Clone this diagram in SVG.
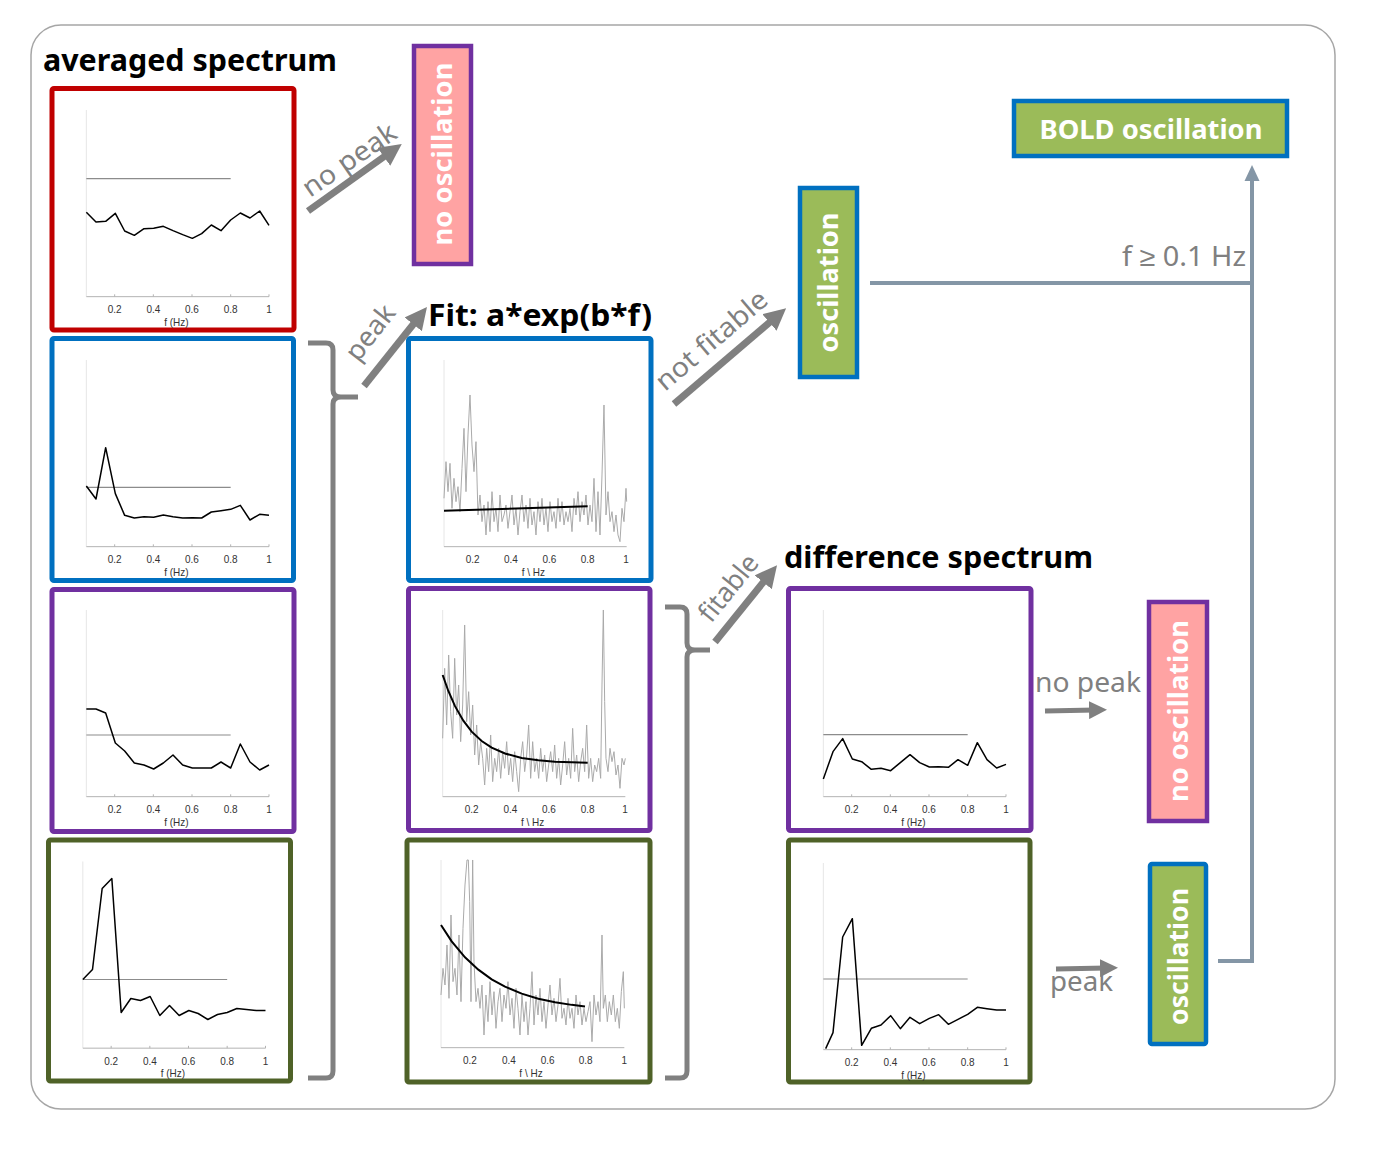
<svg xmlns="http://www.w3.org/2000/svg" width="1394" height="1157" viewBox="0 0 1394 1157">
<style>
.frame{fill:#fff;stroke:#a6a6a6;stroke-width:1.5}
.pan{fill:#fff;stroke-width:5}
.red{stroke:#C00000}.blue{stroke:#0070C0}.purple{stroke:#7030A0}.olive{stroke:#4F6228}
.yax{stroke:#e6e6e6;stroke-width:3}
.xax{stroke:#b3b3b3;stroke-width:3}
.thr{stroke:#8c8c8c;stroke-width:3.5;fill:none}
.dat{stroke:#000;stroke-width:4.5;fill:none;stroke-linejoin:round}
.noise{stroke:#aaaaaa;stroke-width:3;fill:none;stroke-linejoin:round}
.fit{stroke:#000;stroke-width:6;fill:none}
.tk{font-family:"Liberation Sans",Arial,sans-serif;font-size:30px;fill:#333;text-anchor:middle}
.title{font-family:"Noto Sans","Liberation Sans",sans-serif;font-weight:bold;font-size:30px;fill:#000}
.wl{font-family:"Noto Sans","Liberation Sans",sans-serif;font-weight:bold;font-size:27px;fill:#fff;text-anchor:middle}
.gl{font-family:"Noto Sans","Liberation Sans",sans-serif;font-size:27px;fill:#808080}
.pink{fill:#FFA3A3;stroke:#7030A0;stroke-width:4.5}
.green{fill:#9BBB59;stroke:#0070C0;stroke-width:4.5}
.garrow{stroke:#808080;stroke-width:7;fill:none}
.garrow2{stroke:#808080;stroke-width:5;fill:none}
.brace{stroke:#808080;stroke-width:5;fill:none;stroke-linejoin:round}
.conn{stroke:#8496A6;stroke-width:4;fill:none}
</style>
<defs>
<marker id="ah" markerUnits="userSpaceOnUse" markerWidth="22" markerHeight="22" viewBox="0 0 22 22" refX="10" refY="11" orient="auto"><path d="M0,0 L22,11 L0,22 z" fill="#808080"/></marker>
<marker id="ah2" markerUnits="userSpaceOnUse" markerWidth="18" markerHeight="18" viewBox="0 0 18 18" refX="6" refY="9" orient="auto"><path d="M0,0 L18,9 L0,18 z" fill="#808080"/></marker>
<g id="axes">
<line class="yax" x1="115" y1="75" x2="115" y2="635"/>
<line class="xax" x1="115" y1="635" x2="663" y2="635"/>
<path class="xax" d="M200,635v-7M316,635v-7M432,635v-7M548,635v-7M663,635v-7"/>
<text class="tk" x="200" y="685">0.2</text><text class="tk" x="316" y="685">0.4</text><text class="tk" x="432" y="685">0.6</text><text class="tk" x="548" y="685">0.8</text><text class="tk" x="663" y="685">1</text>
</g>
</defs>
<rect class="frame" x="31" y="25" width="1304" height="1084" rx="30"/>

<text class="title" x="43" y="71" textLength="294" lengthAdjust="spacingAndGlyphs">averaged spectrum</text>
<text class="title" x="428" y="326" textLength="224" lengthAdjust="spacingAndGlyphs">Fit: a*exp(b*f)</text>
<text class="title" x="784" y="568" textLength="309" lengthAdjust="spacingAndGlyphs">difference spectrum</text>

<g id="p1">
<rect class="pan red" x="52" y="88.5" width="242" height="241.5" rx="2"/>
<g transform="translate(48,85) scale(0.33333)">
<use href="#axes"/><text class="tk" x="385" y="722">f (Hz)</text>
<line class="thr" x1="115" y1="281" x2="548" y2="281"/>
<polyline class="dat" points="115,382 144,411 173,409 202,385 230,438 259,451 288,431 317,430 346,424 375,437 404,449 433,460 461,446 490,420 519,437 548,405 577,384 606,399 635,378 663,421"/>
</g></g>

<g id="p2">
<rect class="pan blue" x="52" y="338.5" width="241.5" height="242" rx="2"/>
<g transform="translate(48,335) scale(0.33333)">
<use href="#axes"/><text class="tk" x="385" y="722">f (Hz)</text>
<line class="thr" x1="115" y1="457" x2="548" y2="457"/>
<polyline class="dat" points="115,453 144,492 173,338 202,476 230,541 259,549 288,545 317,547 346,540 375,545 404,549 433,548 461,549 490,531 519,527 548,523 577,511 606,555 635,538 663,541"/>
</g></g>

<g id="p3">
<rect class="pan purple" x="52" y="589.5" width="242" height="242" rx="2"/>
<g transform="translate(48,585) scale(0.33333)">
<use href="#axes"/><text class="tk" x="385" y="722">f (Hz)</text>
<line class="thr" x1="115" y1="450" x2="548" y2="450"/>
<polyline class="dat" points="115,372 144,372 173,384 202,474 230,498 259,534 288,540 317,552 346,534 375,510 404,540 433,549 461,549 490,549 519,531 548,549 577,477 606,531 635,555 663,540"/>
</g></g>

<g id="p4">
<rect class="pan olive" x="48.5" y="840" width="242" height="241" rx="2"/>
<g transform="translate(44.5,836.5) scale(0.33333)">
<use href="#axes"/><text class="tk" x="385" y="722">f (Hz)</text>
<line class="thr" x1="115" y1="429" x2="548" y2="429"/>
<polyline class="dat" points="115,429 144,399 173,156 202,126 230,528 259,486 288,492 317,480 346,537 375,507 404,537 433,522 461,531 490,549 519,534 548,528 577,516 606,519 635,522 663,522"/>
</g></g>

<g id="p5">
<rect class="pan blue" x="408.5" y="338.5" width="242.5" height="242" rx="2"/>
<g transform="translate(405,335) scale(0.33333)">
<line class="yax" x1="117" y1="75" x2="117" y2="635"/>
<line class="xax" x1="117" y1="635" x2="665" y2="635"/>
<text class="tk" x="203" y="685">0.2</text><text class="tk" x="318" y="685">0.4</text><text class="tk" x="433" y="685">0.6</text><text class="tk" x="548" y="685">0.8</text><text class="tk" x="663" y="685">1</text>
<text class="tk" x="385" y="722">f \ Hz</text>
<polyline class="noise" points="117,490 123,380 129,470 135,385 141,520 147,430 153,500 159,455 165,530 171,400 177,280 183,470 189,300 195,180 201,330 207,410 213,320 219,540 225,480 231,560 237,510 243,600 249,500 255,590 261,470 267,560 273,520 279,590 285,480 291,560 297,540 303,510 309,580 315,530 321,480 327,570 333,520 339,600 345,530 351,480 357,560 363,510 369,580 375,490 381,570 387,530 393,600 399,500 405,560 411,490 417,570 423,520 429,590 435,500 441,560 447,530 453,580 459,490 465,560 471,500 477,570 483,530 489,560 495,520 501,590 507,490 513,540 519,470 525,560 531,500 537,540 543,480 549,570 555,510 561,560 567,430 573,590 579,470 585,600 591,420 597,210 603,540 609,470 615,560 621,530 627,590 633,540 639,600 645,620 651,520 657,560 663,460 665,500"/>
<line class="fit" x1="117" y1="527" x2="548" y2="514"/>
</g></g>

<g id="p6">
<rect class="pan purple" x="408.5" y="588.5" width="241.5" height="242" rx="2"/>
<g transform="translate(405,585) scale(0.33333)">
<line class="yax" x1="113" y1="75" x2="113" y2="635"/>
<line class="xax" x1="113" y1="635" x2="661" y2="635"/>
<text class="tk" x="200" y="685">0.2</text><text class="tk" x="316" y="685">0.4</text><text class="tk" x="432" y="685">0.6</text><text class="tk" x="548" y="685">0.8</text><text class="tk" x="660" y="685">1</text>
<text class="tk" x="383" y="722">f \ Hz</text>
<polyline class="noise" points="113,460 119,250 125,420 131,210 137,380 143,460 149,220 155,390 161,300 167,470 173,360 179,120 185,410 191,320 197,450 203,360 209,510 215,420 221,540 227,470 233,520 239,600 245,490 251,560 257,450 263,590 269,520 275,560 281,490 287,580 293,500 299,550 305,470 311,570 317,520 323,590 329,500 335,560 341,620 347,520 353,470 359,560 365,510 371,420 377,580 383,470 389,560 395,520 401,580 407,490 413,560 419,510 425,590 431,540 437,500 443,560 449,480 455,580 461,520 467,600 473,540 479,470 485,570 491,520 497,580 503,430 509,560 515,510 521,590 527,530 533,490 539,560 545,420 551,580 557,520 563,590 569,540 575,560 581,520 587,580 591,300 595,75 599,350 603,520 609,560 615,490 621,530 627,500 633,570 639,540 645,610 651,520 657,540 661,520"/>
<path class="fit" d="M113,270 L130,318 L150,363.5 L175,407 L200,440 L230,468 L260,488 L300,505.6 L350,518.7 L400,526 L450,530 L500,532 L548,533.4"/>
</g></g>

<g id="p7">
<rect class="pan olive" x="407" y="840" width="243" height="242" rx="2"/>
<g transform="translate(405,835) scale(0.33333)">
<line class="yax" x1="108" y1="75" x2="108" y2="638"/>
<line class="xax" x1="108" y1="638" x2="658" y2="638"/>
<text class="tk" x="195" y="688">0.2</text><text class="tk" x="312" y="688">0.4</text><text class="tk" x="428" y="688">0.6</text><text class="tk" x="542" y="688">0.8</text><text class="tk" x="658" y="688">1</text>
<text class="tk" x="378" y="725">f \ Hz</text>
<polyline class="noise" points="108,480 114,400 120,450 126,330 132,490 138,240 144,440 150,400 156,480 162,300 168,500 174,280 180,150 186,75 190,75 194,200 198,500 203,75 207,380 213,500 219,460 225,520 231,450 237,600 243,480 249,560 255,440 261,540 267,470 273,580 279,500 285,460 291,560 297,480 303,520 309,440 315,540 321,490 327,580 333,460 339,520 345,600 351,480 357,560 363,500 369,600 375,520 381,410 387,570 393,480 399,540 405,460 411,560 417,500 423,580 429,510 435,450 441,540 447,490 453,560 459,510 465,430 471,550 477,520 483,570 489,490 495,550 501,520 507,580 513,480 519,540 525,500 531,570 537,520 543,560 549,530 555,500 561,620 567,480 573,540 579,500 585,560 591,300 595,520 601,480 607,560 613,500 619,540 625,480 631,560 637,520 643,580 649,470 655,410 658,520"/>
<path class="fit" d="M108,270 L140,319 L180,367 L220,404 L260,433 L300,455 L350,476 L400,491 L450,502 L500,509.6 L540,514.3"/>
</g></g>

<g id="p8">
<rect class="pan purple" x="788.5" y="588.5" width="242.5" height="242" rx="2"/>
<g transform="translate(785,585) scale(0.33333)">
<use href="#axes"/><text class="tk" x="385" y="722">f (Hz)</text>
<line class="thr" x1="115" y1="449" x2="548" y2="449"/>
<polyline class="dat" points="115,582 144,500 173,461 202,522 230,530 259,553 288,550 317,557 346,533 375,509 404,533 433,546 461,545 490,547 519,524 548,541 577,473 606,524 635,549 663,538"/>
</g></g>

<g id="p9">
<rect class="pan olive" x="788.5" y="840" width="241.5" height="242" rx="2"/>
<g transform="translate(785,838) scale(0.33333)">
<use href="#axes"/><text class="tk" x="385" y="722">f (Hz)</text>
<line class="thr" x1="115" y1="423" x2="548" y2="423"/>
<polyline class="dat" points="122,632 144,584 173,297 202,242 230,622 259,571 288,561 317,533 346,572 375,538 404,557 433,541 461,530 490,559 519,544 548,529 577,508 606,512 635,516 663,516"/>
</g></g>

<g id="no-osc-1">
<rect class="pink" x="414" y="46" width="57" height="218"/>
<text class="wl" transform="translate(452,154) rotate(-90)" textLength="183" lengthAdjust="spacingAndGlyphs">no oscillation</text>
</g>
<g id="osc-1">
<rect class="green" x="800" y="188" width="57" height="189"/>
<text class="wl" transform="translate(838,282.5) rotate(-90)" textLength="140" lengthAdjust="spacingAndGlyphs">oscillation</text>
</g>
<g id="bold-osc">
<rect class="green" x="1014" y="101" width="273" height="55"/>
<text class="wl" x="1151" y="139" textLength="223" lengthAdjust="spacingAndGlyphs">BOLD oscillation</text>
</g>
<g id="no-osc-2">
<rect class="pink" x="1149" y="602" width="58" height="219"/>
<text class="wl" transform="translate(1188,711) rotate(-90)" textLength="182" lengthAdjust="spacingAndGlyphs">no oscillation</text>
</g>
<g id="osc-2">
<rect class="green" x="1150" y="864" width="56" height="180" rx="2"/>
<text class="wl" transform="translate(1188,956.5) rotate(-90)" textLength="137" lengthAdjust="spacingAndGlyphs">oscillation</text>
</g>

<g id="connectors">
<path class="garrow" d="M308,211 L392,151" marker-end="url(#ah)"/>
<path class="garrow" d="M364,386 L419.5,316.5" marker-end="url(#ah)"/>
<path class="garrow" d="M674,404 L777,316" marker-end="url(#ah)"/>
<path class="garrow" d="M715,642 L769.5,574.5" marker-end="url(#ah)"/>
<path class="garrow2" d="M1045,711 L1095,710" marker-end="url(#ah2)"/>
<path class="garrow2" d="M1056,969 L1106,968" marker-end="url(#ah2)"/>
<path class="brace" d="M308,343 L326,343 Q333,343 333,350 L333,390 Q333,397 341,397 L358,397 M341,397 Q333,397 333,404 L333,1071 Q333,1078 326,1078 L308,1078"/>
<path class="brace" d="M665,607 L680,607 Q687,607 687,614 L687,643 Q687,650 695,650 L710,650 M695,650 Q687,650 687,657 L687,1071 Q687,1078 680,1078 L665,1078"/>
<path class="conn" d="M870,283 L1252,283"/>
<path class="conn" d="M1218,961 L1252,961 L1252,178"/>
<path d="M1252,165 L1244.5,181 L1259.5,181 z" fill="#8496A6"/>
<text class="gl" transform="translate(310,198) rotate(-34.6)" textLength="108" lengthAdjust="spacingAndGlyphs">no peak</text>
<text class="gl" transform="translate(358,363) rotate(-52)" textLength="63" lengthAdjust="spacingAndGlyphs">peak</text>
<text class="gl" transform="translate(665,392) rotate(-40.5)" textLength="138" lengthAdjust="spacingAndGlyphs">not fitable</text>
<text class="gl" transform="translate(711,624) rotate(-51)" textLength="78" lengthAdjust="spacingAndGlyphs">fitable</text>
<text class="gl" x="1035" y="692" textLength="106" lengthAdjust="spacingAndGlyphs">no peak</text>
<text class="gl" x="1050" y="991" textLength="63" lengthAdjust="spacingAndGlyphs">peak</text>
<text class="gl" x="1122" y="266" textLength="124" lengthAdjust="spacingAndGlyphs">f ≥ 0.1 Hz</text>
</g>
</svg>
